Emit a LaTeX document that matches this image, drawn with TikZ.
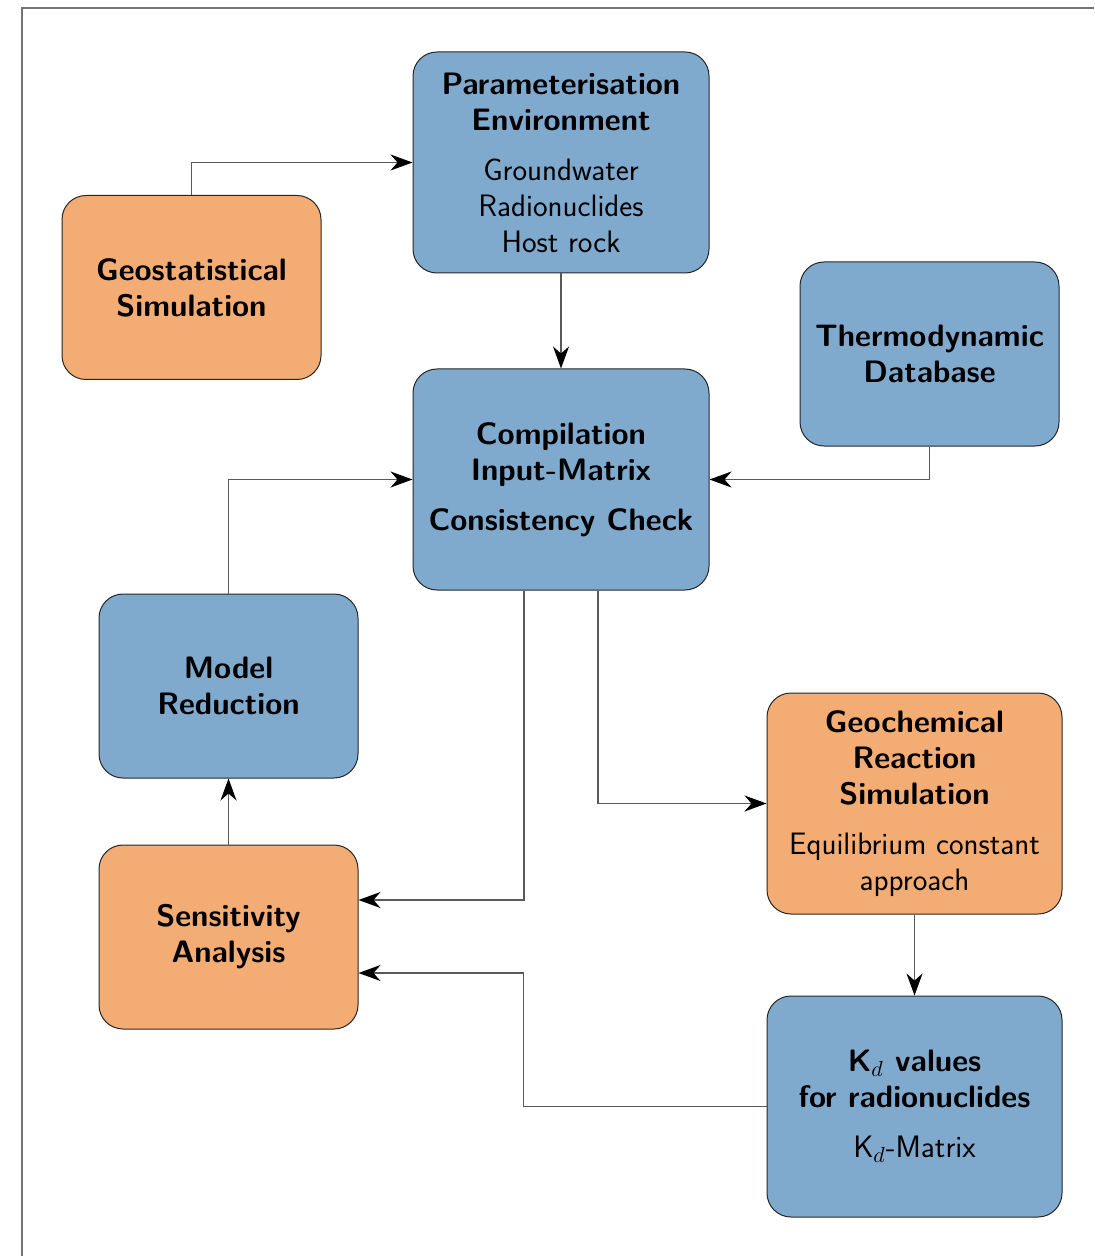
\documentclass[tikz,border=0pt]{standalone}
\usetikzlibrary{arrows.meta}
\definecolor{boxblue}{RGB}{127,170,206}
\definecolor{boxorange}{RGB}{243,172,115}
\begin{document}
\begin{tikzpicture}[x=0.5pt,y=-0.5pt,
  box/.style={draw=black!85, line width=0.5pt, rounded corners=12pt, align=center,
    font=\sffamily\fontsize{15.5}{18}\selectfont, inner sep=0pt},
  bluebox/.style={box, fill=boxblue},
  orangebox/.style={box, fill=boxorange},
  wide/.style={minimum width=148pt, minimum height=110.5pt},
  narrow/.style={minimum width=129.5pt, minimum height=92pt},
  arr/.style={draw=black!65, line width=0.6pt, -{Stealth[length=11pt,width=8pt,inset=3.5pt,color=black]}}
]
\useasboundingbox (0,0) rectangle (1094,1256);
\draw[black!55, line width=0.8pt] (22,1256) -- (22,8) -- (1094,8);

\node[bluebox, wide] (param) at (561,162.5)
  {\textbf{Parameterisation}\\\textbf{Environment}\\[7pt]Groundwater\\Radionuclides\\Host rock};
\node[orangebox, narrow] (geo) at (191.5,287.5)
  {\textbf{Geostatistical}\\\textbf{Simulation}};
\node[bluebox, narrow] (thermo) at (929.5,354)
  {\textbf{Thermodynamic}\\\textbf{Database}};
\node[bluebox, wide] (comp) at (561,479.5)
  {\textbf{Compilation}\\\textbf{Input-Matrix}\\[7pt]\textbf{Consistency Check}};
\node[bluebox, narrow] (model) at (228.5,686)
  {\textbf{Model}\\\textbf{Reduction}};
\node[orangebox, wide, minimum width=147.5pt] (geochem) at (914.5,803.5)
  {\textbf{Geochemical}\\\textbf{Reaction}\\\textbf{Simulation}\\[7pt]Equilibrium constant\\approach};
\node[orangebox, narrow] (sens) at (228.5,937)
  {\textbf{Sensitivity}\\\textbf{Analysis}};
\node[bluebox, wide, minimum width=147.5pt] (kd) at (914.5,1106.5)
  {\textbf{K$_d$ values}\\\textbf{for radionuclides}\\[7pt]K$_d$-Matrix};

\draw[arr] (geo.north) |- (param.west);
\draw[arr] (param.south) -- (comp.north);
\draw[arr] (thermo.south) |- (comp.east);
\draw[arr] (model.north) |- (comp.west);
\draw[arr] ([xshift=-18.5pt]comp.south) |- ([yshift=18.5pt]sens.east);
\draw[arr] ([xshift=18.5pt]comp.south) |- (geochem.west);
\draw[arr] (geochem.south) -- (kd.north);
\draw[arr] (sens.north) -- (model.south);
\draw[arr] (kd.west) -- ++(-243,0) |- ([yshift=-18pt]sens.east);
\end{tikzpicture}
\end{document}
